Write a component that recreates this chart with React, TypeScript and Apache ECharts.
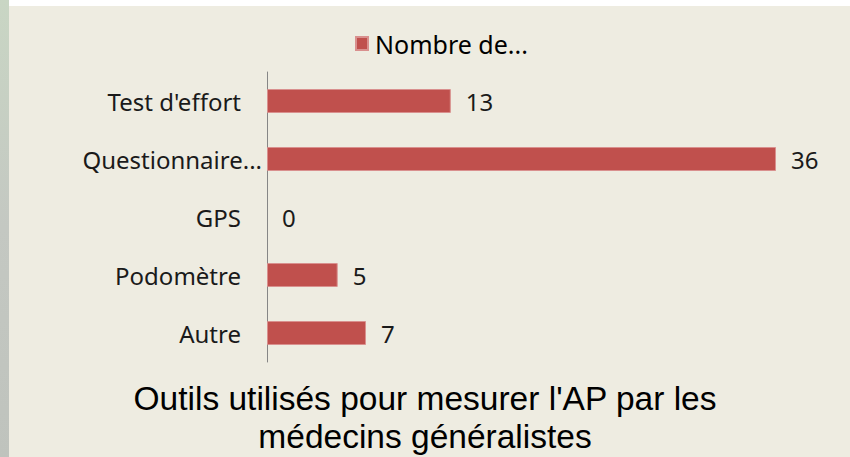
import React, { useEffect, useRef } from "react";
import * as echarts from "echarts";

const categories = ["Test d'effort", "Questionnaire...", "GPS", "Podomètre", "Autre"];
const values = [13, 36, 0, 5, 7];
const seriesName = "Nombre de...";
const titleLines = ["Outils utilisés pour mesurer l'AP par les", "médecins généralistes"];

export default function App() {
  const ref = useRef<HTMLDivElement>(null);
  useEffect(() => {
    document.body.style.margin = "0";
    const chart = echarts.init(ref.current!, undefined, { renderer: "svg" });
    const titleStyle = {
      fontFamily: "Liberation Sans",
      fontSize: 33.5,
      fontWeight: "normal" as const,
      color: "#000",
    };
    chart.setOption({
      animation: false,
      backgroundColor: "#ffffff",
      graphic: [
        {
          type: "rect",
          shape: { x: 0, y: 0, width: 9, height: 457 },
          style: {
            fill: new echarts.graphic.LinearGradient(0, 0, 0, 1, [
              { offset: 0, color: "#c9d6c4" },
              { offset: 0.5, color: "#c4c8c2" },
              { offset: 1, color: "#bfc3bd" },
            ]),
          },
          z: -10,
        },
        {
          type: "rect",
          shape: { x: 9, y: 6, width: 841, height: 451 },
          style: { fill: "#EEECE1" },
          z: -10,
        },
      ],
      title: [
        { text: titleLines[0], left: "center", top: 381, padding: 0, textStyle: titleStyle },
        { text: titleLines[1], left: "center", top: 419, padding: 0, textStyle: titleStyle },
      ],
      legend: {
        data: [seriesName],
        left: 350,
        top: 26,
        icon: "rect",
        itemWidth: 12,
        itemHeight: 13,
        textStyle: { fontFamily: "Noto Sans", fontSize: 25, color: "#000", padding: [0, 0, 0, 2] },
      },
      grid: { left: 267, right: 74, top: 72, bottom: 95, containLabel: false },
      xAxis: {
        type: "value",
        min: 0,
        max: 36,
        show: false,
      },
      yAxis: {
        type: "category",
        data: categories,
        inverse: true,
        axisLine: { show: true, lineStyle: { color: "#868686", width: 1 } },
        axisTick: { show: false },
        axisLabel: {
          margin: 5,
          fontFamily: "Noto Sans",
          fontSize: 24,
          color: "#000",
          formatter: (v: string) => (v.endsWith("...") ? `{q|${v}}` : `{a|${v}}`),
          rich: {
            a: { fontFamily: "Noto Sans", fontSize: 24, color: "#1a1a1a", padding: [0, 21, 0, 0] },
            q: { fontFamily: "Noto Sans", fontSize: 24, color: "#1a1a1a" },
          },
        },
      },
      series: [
        {
          name: seriesName,
          type: "bar",
          data: values.map((v) => (v === 0 ? { value: v, itemStyle: { borderWidth: 0 } } : v)),
          barWidth: 24,
          itemStyle: { color: "#C0504D", borderColor: "#D9908E", borderWidth: 1 },
          label: {
            show: true,
            position: "right",
            distance: 15,
            fontFamily: "Noto Sans",
            fontSize: 24,
            color: "#1a1a1a",
          },
        },
      ],
    });
    return () => chart.dispose();
  }, []);
  return <div ref={ref} style={{ width: 850, height: 457 }} />;
}
